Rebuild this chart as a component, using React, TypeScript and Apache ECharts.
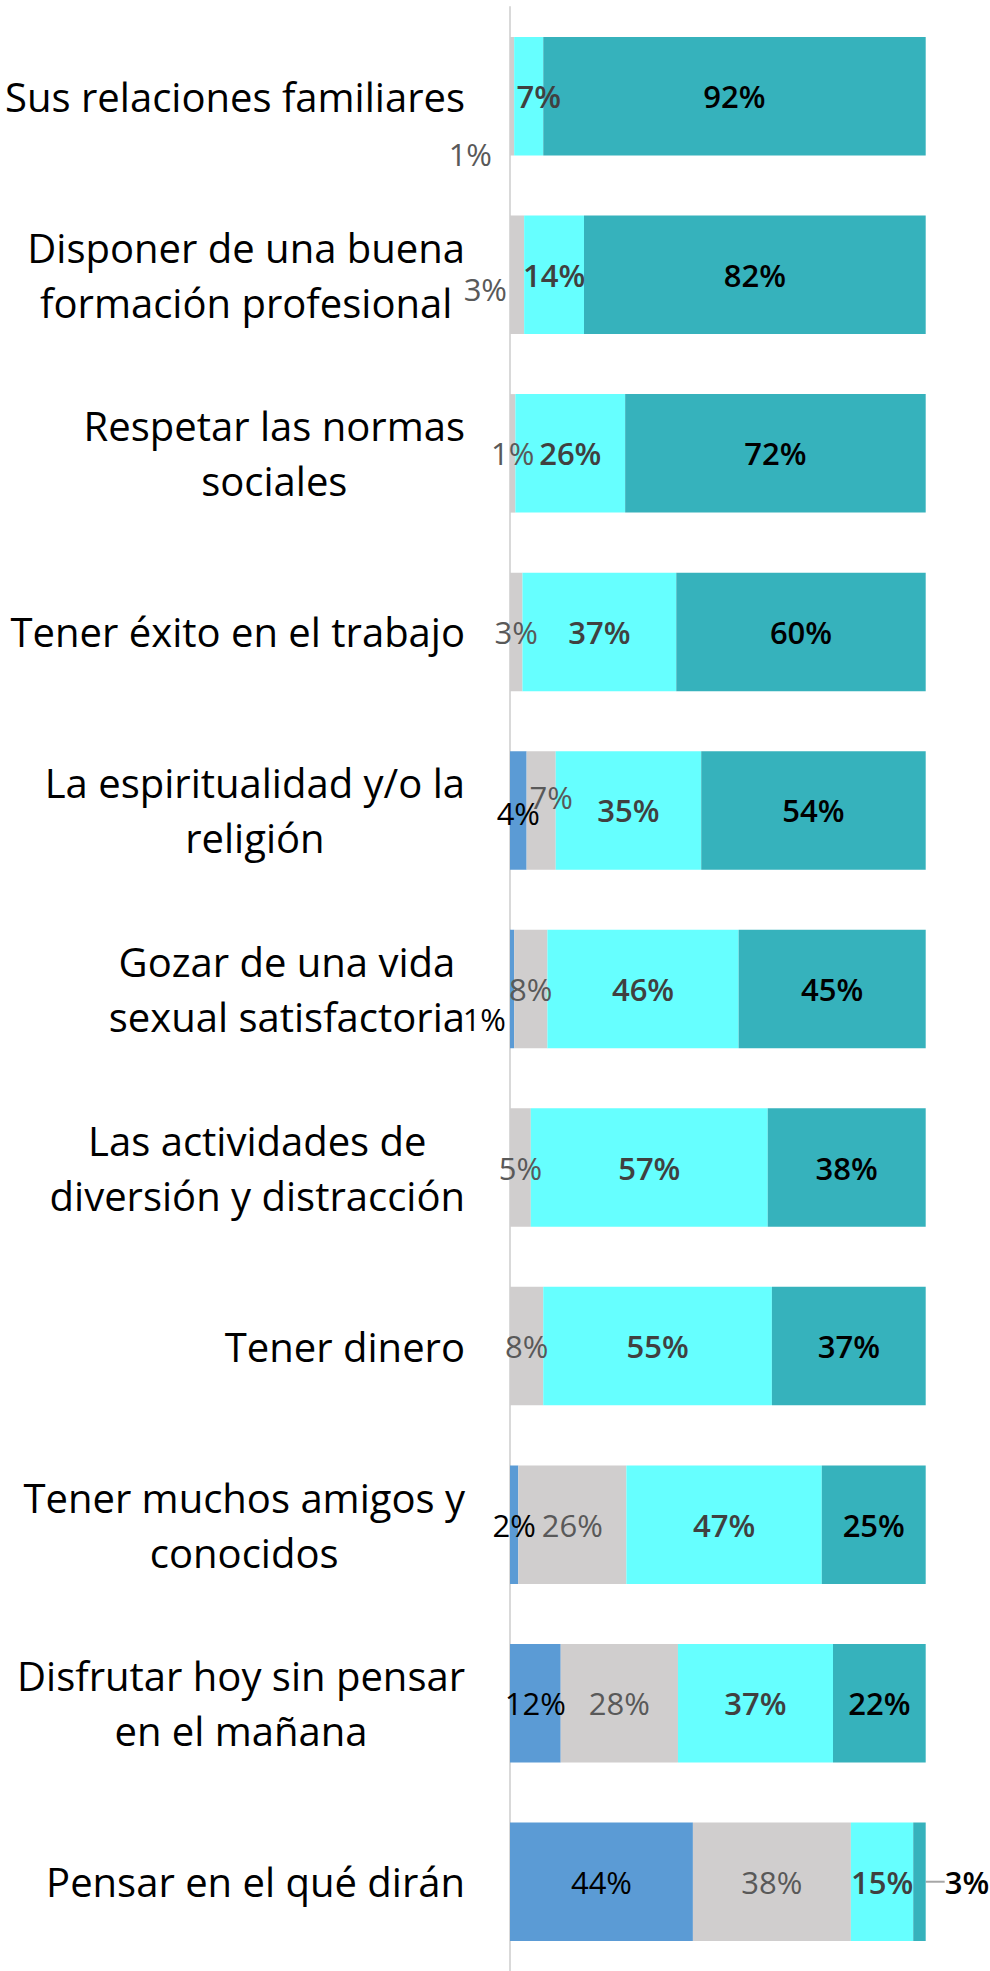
import React, { useEffect, useRef } from "react";
import * as echarts from "echarts";

const categories = [
  "Sus relaciones familiares",
  "Disponer de una buena\nformación profesional",
  "Respetar las normas\nsociales",
  "Tener éxito en el trabajo",
  "La espiritualidad y/o la\nreligión",
  "Gozar de una vida\nsexual satisfactoria",
  "Las actividades de\ndiversión y distracción",
  "Tener dinero",
  "Tener muchos amigos y\nconocidos",
  "Disfrutar hoy sin pensar\nen el mañana",
  "Pensar en el qué dirán",
];

// four answer groups, stacked left to right (values in %)
const blueValues = [0, 0, 0, 0, 4, 1, 0, 0, 2, 12.2, 44];
const grayValues = [1, 3.4, 1.3, 3, 7, 8, 5, 8, 26, 28.2, 38];
const cyanValues = [7, 14.4, 26.4, 37, 35, 46, 57, 55, 47, 37.3, 15];
const tealValues = [92, 82.2, 72.3, 60, 54, 45, 38, 37, 25, 22.3, 3];

const FONT = "'Open Sans', 'Noto Sans', sans-serif";
const seriesColors = ["#5B9BD5", "#D0CECE", "#66FFFF", "#36B2BC"];
const labelColors = ["#000000", "#595959", "#404040", "#000000"];
const labelWeights: any[] = ["normal", "normal", 600, 600];

const labelOverrides: Record<string, any> = {
  "1-0": { position: "left", distance: 18, offset: [0, 58] },
  "2-0": { offset: [10, 0] },
  "1-1": { position: "left", distance: 3, offset: [0, 14] },
  "0-4": { offset: [0, 3] },
  "1-4": { offset: [10, -13] },
  "0-5": { position: "left", distance: 4, offset: [0, 30] },
  "3-10": { position: "right", distance: 5 },
};

export default function App() {
  const ref = useRef<HTMLDivElement>(null);
  useEffect(() => {
    if (!ref.current) return;
    const chart = echarts.init(ref.current, null, { renderer: "svg" });
    const all = [blueValues, grayValues, cyanValues, tealValues];
    const series = all.map((vals, s) => {
      const ser: any = {
        type: "bar",
        stack: "total",
        barWidth: 118.5,
        itemStyle: { color: seriesColors[s] },
        label: {
          show: true,
          position: "inside",
          fontFamily: FONT,
          fontSize: 31,
          fontWeight: labelWeights[s],
          color: labelColors[s],
          formatter: (p: any) =>
            p.value > 0 ? Math.round(p.value) + "%" : "",
        },
        data: vals.map((v, i) => {
          const o = labelOverrides[`${s}-${i}`];
          const item: any = { value: v };
          if (o) item.label = o;
          if (s === 3 && i === 10) {
            item.labelLine = {
              show: true,
              lineStyle: { color: "#A6A6A6", width: 2 },
            };
          }
          return item;
        }),
      };
      if (s === 3) {
        ser.labelLayout = (params: any) =>
          params.dataIndex === 10 ? { dx: 14 } : {};
      }
      return ser;
    });
    chart.setOption({
      animation: false,
      grid: { left: 510, top: 7, width: 415.7, height: 1969, containLabel: false },
      xAxis: { type: "value", min: 0, max: 100, show: false },
      yAxis: {
        type: "category",
        inverse: true,
        data: categories,
        axisLine: { show: true, lineStyle: { color: "#D9D9D9", width: 2 } },
        axisTick: { show: false },
        splitLine: { show: false },
        axisLabel: {
          margin: 45,
          fontFamily: FONT,
          fontSize: 40,
          color: "#000000",
          formatter: (v: string) =>
            v
              .split("\n")
              .map((l) => `{c|${l}}`)
              .join("\n"),
          rich: {
            c: {
              align: "center",
              fontFamily: FONT,
              fontSize: 40,
              lineHeight: 55,
              color: "#000000",
            },
          },
        },
      },
      series,
    });
    return () => chart.dispose();
  }, []);
  return (
    <div
      ref={ref}
      style={{ position: "absolute", left: 0, top: 0, width: 990, height: 1971 }}
    />
  );
}
